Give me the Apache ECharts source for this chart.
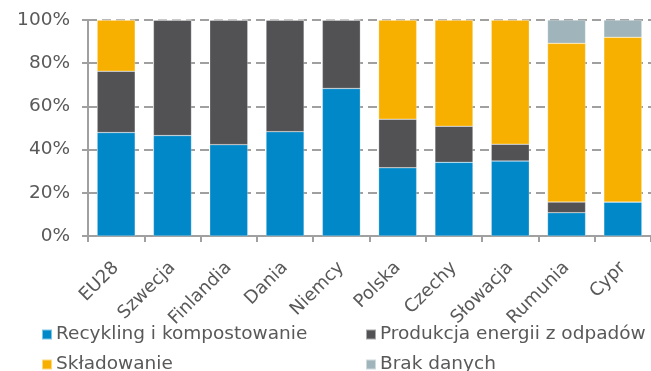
<!DOCTYPE html>
<html><head><meta charset="utf-8">
<script src="https://cdn.jsdelivr.net/npm/echarts@6/dist/echarts.min.js"></script>
<style>html,body{margin:0;padding:0;background:#fff}#c{width:651px;height:371px}</style>
</head><body><div id="c"></div>
<script>
const categories = ['EU28','Szwecja','Finlandia','Dania','Niemcy','Polska','Czechy','Słowacja','Rumunia','Cypr'];
const recykling = [47.9, 46.5, 42.3, 48.3, 68.3, 31.6, 34.1, 34.7, 10.8, 15.7];
const energia   = [28.4, 53.5, 57.7, 51.7, 31.7, 22.5, 16.7, 7.8, 4.9, 0];
const skladowanie = [23.7, 0, 0, 0, 0, 45.9, 49.2, 57.5, 73.5, 76.3];
const brak      = [0, 0, 0, 0, 0, 0, 0, 0, 10.8, 8.0];
const yTicks = [0, 20, 40, 60, 80, 100];
const names = ['Recykling i kompostowanie','Produkcja energii z odpadów','Składowanie','Brak danych'];
const colors = ['#0088c8','#525254','#f8b000','#9fb4bb'];

const font = 'DejaVu Sans';
const fs = 18.5;
const chart = echarts.init(document.getElementById('c'), null, {renderer:'canvas'});
const mk = (name, data, color) => ({
  name, type:'bar', stack:'s', data, barWidth: 38,
  itemStyle:{color, borderColor:'rgba(255,255,255,0.5)', borderWidth:0.5},
  emphasis:{disabled:true}
});
const lg = (name, left, top) => ({
  data:[name], left, top, itemWidth:10, itemHeight:10, icon:'rect',
  textStyle:{color:'#595959', fontFamily:font, fontSize:fs, padding:[0,0,0,-1]}
});
chart.setOption({
  animation:false,
  color: colors,
  grid:{left:88, top:20, right:-4, bottom:135},
  xAxis:{
    type:'category', data:categories,
    axisLine:{lineStyle:{color:'#a0a0a0', width:2}},
    axisTick:{show:true, length:6, lineStyle:{color:'#a0a0a0', width:2}},
    axisLabel:{rotate:45, color:'#595959', fontFamily:font, fontSize:18, margin:29}
  },
  yAxis:{
    type:'value', min:0, max:100, interval:20,
    axisLine:{show:true, lineStyle:{color:'#a0a0a0', width:2}},
    axisTick:{show:true, length:6, lineStyle:{color:'#a0a0a0', width:2}},
    axisLabel:{color:'#595959', fontFamily:font, fontSize:fs, margin:18,
      formatter:v => yTicks.includes(v) ? v + '%' : ''},
    splitLine:{show:true, lineStyle:{color:'#a0a0a0', width:2, type:[9,5]}}
  },
  legend:[
    lg(names[0], 36, 320),
    lg(names[1], 360, 320),
    lg(names[2], 36, 350),
    lg(names[3], 360, 350)
  ],
  series:[
    mk(names[0], recykling, colors[0]),
    mk(names[1], energia, colors[1]),
    mk(names[2], skladowanie, colors[2]),
    mk(names[3], brak, colors[3])
  ]
});
</script></body></html>
